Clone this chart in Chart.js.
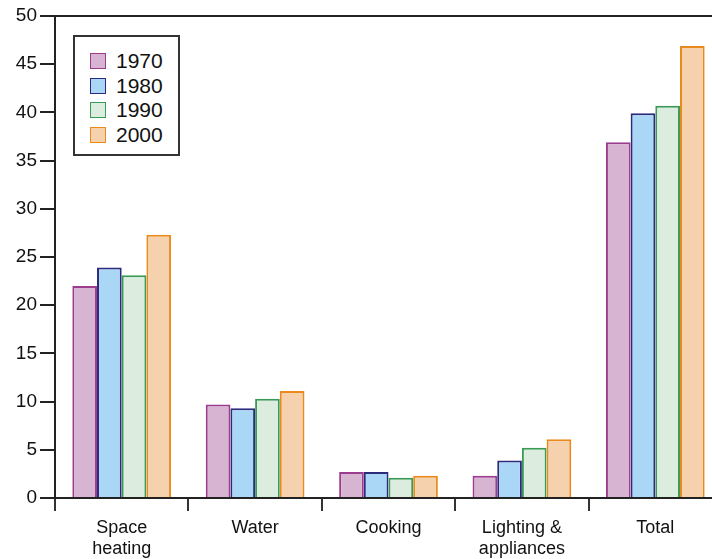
<!DOCTYPE html>
<html>
<head>
<meta charset="utf-8">
<script src="https://cdn.jsdelivr.net/npm/chart.js@4"></script>
<style>
  html, body { margin: 0; padding: 0; background: #fff; overflow: hidden; }
  #wrap { position: relative; width: 722px; height: 559px; }
  #legend {
    position: absolute; left: 73px; top: 35px; width: 103px; height: 117px;
    border: 2px solid #333; background: #fff;
    font-family: "Liberation Sans", Arial, sans-serif; font-size: 21px; color: #111;
  }
  .item { position: absolute; left: 15px; height: 22px; line-height: 22px; }
  .sw { position: absolute; left: 0; top: 3px; width: 14px; height: 14px; border: 1.5px solid; }
  .lbl { position: absolute; left: 26px; top: 0; }
</style>
</head>
<body>
<div id="wrap">
  <canvas id="chart" width="722" height="559"></canvas>
  <div id="legend"></div>
</div>
<script>
// data
const categories = [["Space", "heating"], "Water", "Cooking", ["Lighting &", "appliances"], "Total"];
const years = ["1970", "1980", "1990", "2000"];
const v1970 = [22.0, 9.7, 2.7, 2.3, 36.9];
const v1980 = [23.9, 9.3, 2.7, 3.9, 39.9];
const v1990 = [23.1, 10.3, 2.1, 5.2, 40.7];
const v2000 = [27.3, 11.1, 2.3, 6.1, 46.9];

const fills = ["#d8b4d3", "#abd7f6", "#dcede0", "#f5d1ad"];
const borders = ["#9b3c8e", "#2d2a7c", "#3a9b55", "#ea8a1c"];
const series = [v1970, v1980, v1990, v2000];

const font = "'Liberation Sans', Arial, sans-serif";

// legend
const legendEl = document.getElementById("legend");
years.forEach((y, i) => {
  const item = document.createElement("div");
  item.className = "item";
  item.style.top = (13 + i * 24.5) + "px";
  item.innerHTML = `<span class="sw" style="background:${fills[i]};border-color:${borders[i]}"></span><span class="lbl">${y}</span>`;
  legendEl.appendChild(item);
});

const ctx = document.getElementById("chart").getContext("2d");
new Chart(ctx, {
  type: "bar",
  data: {
    labels: categories,
    datasets: years.map((y, i) => ({
      label: y,
      data: series[i],
      backgroundColor: fills[i],
      borderColor: borders[i],
      borderWidth: 2,
      borderSkipped: "start",
      categoryPercentage: 0.74,
      barPercentage: 1.0
    }))
  },
  options: {
    responsive: false,
    animation: false,
    layout: { padding: { top: 16, right: 0, left: 0, bottom: 0 } },
    plugins: { legend: { display: false }, tooltip: { enabled: false } },
    scales: {
      y: {
        min: 0,
        max: 50,
        afterFit: (scale) => { scale.width = 55; },
        ticks: { stepSize: 5, color: "#111", padding: 3, font: { family: font, size: 19 } },
        grid: {
          color: (c) => (c.tick && c.tick.value === 50 ? "#222" : "rgba(0,0,0,0)"),
          lineWidth: 2,
          tickColor: "#222",
          tickLength: 15,
          drawTicks: true
        },
        border: { color: "#222", width: 2 }
      },
      x: {
        afterFit: (scale) => { scale.height = 61; },
        ticks: { color: "#111", padding: 6, font: { family: font, size: 18 } },
        grid: {
          offset: true,
          color: "rgba(0,0,0,0)",
          tickColor: "#333",
          tickLength: 13,
          lineWidth: 2
        },
        border: { color: "#222", width: 2 }
      }
    }
  }
});
</script>
</body>
</html>
